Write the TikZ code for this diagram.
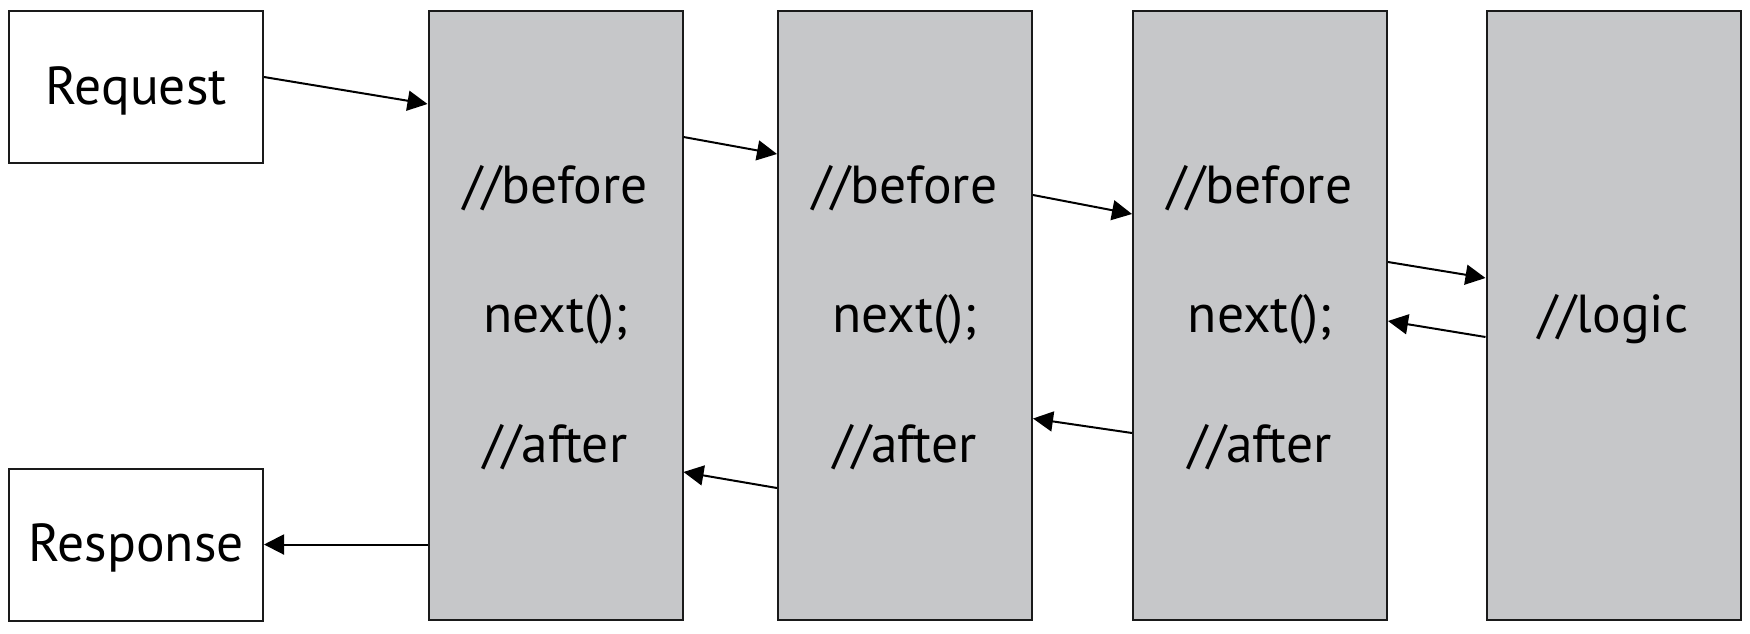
\documentclass[tikz,border=0pt]{standalone}
\usepackage{fontspec}
\setmainfont{PT Sans}
\usetikzlibrary{arrows.meta}
\definecolor{boxgray}{HTML}{C6C7C9}
\definecolor{edge}{HTML}{1A1A1A}
\begin{document}
\begin{tikzpicture}[x=1pt,y=-1pt,
  txt/.style={font=\fontsize{53.5}{60}\selectfont, text=black},
  plainbox/.style={draw=edge, line width=2pt, fill=white, minimum width=254pt, minimum height=152pt, inner sep=0pt},
  stage/.style={draw=edge, line width=2pt, fill=boxgray, minimum width=254pt, minimum height=609pt, inner sep=0pt},
  lbl/.style={txt, inner sep=0pt, anchor=center, yshift=-3.5pt},
  arr/.style={line width=2pt, draw=black, -{Triangle[length=20pt,width=20pt]}}
]
\useasboundingbox (0,0) rectangle (1750,633);

% client side
\node[plainbox] (req)  at (136,87)    {};
\node[plainbox] (resp) at (136,544.5) {};
\node[lbl] (req-text)  at (req.center)  {Request};
\node[lbl] (resp-text) at (resp.center) {Response};

% middleware chain
\node[stage] (b1) at (555.5,315.5) {};
\node[stage] (b2) at (905,315.5)   {};
\node[stage] (b3) at (1260,315.5)  {};
\node[stage] (b4) at (1613.5,315.5) {};

\foreach \b in {b1,b2,b3}{
  \node[lbl] (\b-before) at ([yshift=131pt]\b.center) {//before};
  \node[lbl] (\b-next)   at (\b.center)                {next();};
  \node[lbl] (\b-after)  at ([yshift=-128pt]\b.center) {//after};
}
\node[lbl] (b4-logic) at (b4.center) {//logic};

% request path
\draw[arr] ([yshift=10pt]req.east)   -- ([yshift=211.5pt]b1.west);
\draw[arr] ([yshift=178.5pt]b1.east) -- ([yshift=161.5pt]b2.west);
\draw[arr] ([yshift=120.5pt]b2.east) -- ([yshift=101.5pt]b3.west);
\draw[arr] ([yshift=53.5pt]b3.east)  -- ([yshift=37.5pt]b4.west);

% response path
\draw[arr] ([yshift=-21.5pt]b4.west)  -- ([yshift=-5.5pt]b3.east);
\draw[arr] ([yshift=-117.5pt]b3.west) -- ([yshift=-103pt]b2.east);
\draw[arr] ([yshift=-172.5pt]b2.west) -- ([yshift=-156.5pt]b1.east);
\draw[arr] ([yshift=-229pt]b1.west)   -- (resp.east);
\end{tikzpicture}
\end{document}
